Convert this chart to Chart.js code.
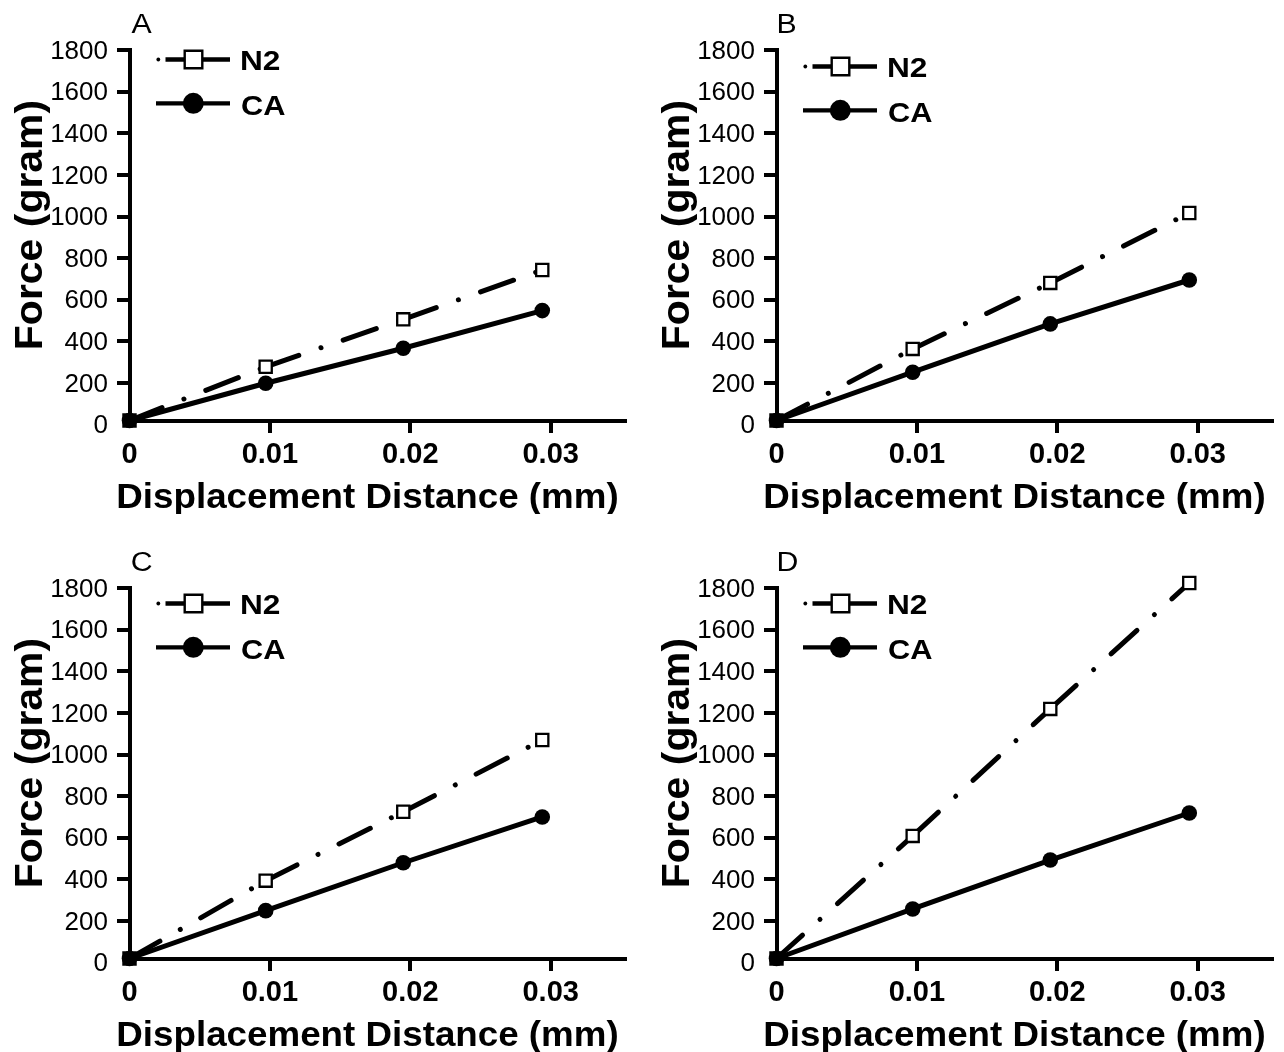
<!DOCTYPE html>
<html><head><meta charset="utf-8">
<script src="https://cdn.jsdelivr.net/npm/chart.js@4/dist/chart.umd.min.js"></script>
<style>
html,body{margin:0;padding:0;background:#fff;width:1284px;height:1052px;overflow:hidden;}
canvas{position:absolute;}
</style></head><body>
<canvas id="pA" width="636" height="514" style="left:0px;top:0px"></canvas>
<canvas id="pB" width="636" height="514" style="left:647px;top:0px"></canvas>
<canvas id="pC" width="636" height="514" style="left:0px;top:538px"></canvas>
<canvas id="pD" width="636" height="514" style="left:647px;top:538px"></canvas>
<script>
// ---- data ----
const xValues = [0, 0.0097, 0.0195, 0.0294];
const xTicks = [0, 0.01, 0.02, 0.03];
const xTickLabels = ['0', '0.01', '0.02', '0.03'];
const yTicks = [0, 200, 400, 600, 800, 1000, 1200, 1400, 1600, 1800];
const yTickLabels = ['0', '200', '400', '600', '800', '1000', '1200', '1400', '1600', '1800'];
const panelLetters = ['A', 'B', 'C', 'D'];
const seriesNames = ['N2', 'CA'];
const xTitle = 'Displacement Distance (mm)';
const yTitle = 'Force (gram)';
const n2A = [20, 278, 506, 743];
const caA = [20, 199, 367, 548];
const n2B = [20, 364, 681, 1017];
const caB = [20, 252, 484, 695];
const n2C = [20, 394, 725, 1070];
const caC = [20, 250, 480, 700];
const n2D = [20, 609, 1219, 1824];
const caD = [20, 258, 493, 719];

const FONT = '"Liberation Sans", Arial, Helvetica, sans-serif';
const DASH = [35, 23.5, 0.001, 23.5];

function stretchedText(ctx, text, x, y, font, sx, align) {
  ctx.save();
  ctx.translate(x, y);
  ctx.scale(sx, 1);
  ctx.font = font;
  ctx.textAlign = align;
  ctx.textBaseline = 'alphabetic';
  ctx.fillText(text, 0, 0);
  ctx.restore();
}

const decor = {
  id: 'panelDecor',
  afterDraw(chart, args, o) {
    const ctx = chart.ctx;
    const ds = chart.data.datasets;
    ctx.save();
    ctx.fillStyle = '#000';
    ctx.strokeStyle = '#000';
    // panel letter
    stretchedText(ctx, o.letter, o.letterX, 32.5, '27px ' + FONT, 1.12, 'center');
    // y title (rotated)
    ctx.save();
    ctx.translate(42, 225);
    ctx.rotate(-Math.PI / 2);
    ctx.scale(1.05, 1);
    ctx.font = 'bold 39px ' + FONT;
    ctx.textAlign = 'center';
    ctx.textBaseline = 'alphabetic';
    ctx.fillText(yTitle, 0, 0);
    ctx.restore();
    // x title
    stretchedText(ctx, xTitle, 367.5, 507.5, 'bold 35px ' + FONT, 1.05, 'center');
    // legend row 1 (N2): dash-dot line with open square
    const y1 = o.legendY;
    ctx.lineCap = 'butt';
    ctx.lineWidth = 4.3;
    ctx.beginPath();
    ctx.arc(158.3, y1, 1.9, 0, Math.PI * 2);
    ctx.fill();
    ctx.beginPath();
    ctx.moveTo(165.5, y1); ctx.lineTo(184, y1);
    ctx.moveTo(203, y1); ctx.lineTo(230, y1);
    ctx.stroke();
    ctx.lineWidth = 2.4;
    ctx.fillStyle = '#fff';
    ctx.beginPath();
    ctx.rect(193.5 - 8.8, y1 - 8.8, 17.6, 17.6);
    ctx.fill();
    ctx.stroke();
    ctx.fillStyle = '#000';
    stretchedText(ctx, ds[0].label, 240, y1 + 10, 'bold 28px ' + FONT, 1.13, 'left');
    // legend row 2 (CA): solid line with filled circle
    const y2 = o.legendY + 43.8;
    ctx.lineWidth = 4.3;
    ctx.beginPath();
    ctx.moveTo(156, y2); ctx.lineTo(230, y2);
    ctx.stroke();
    ctx.beginPath();
    ctx.arc(193.3, y2, 10.5, 0, Math.PI * 2);
    ctx.fill();
    stretchedText(ctx, ds[1].label, 241, y2 + 12, 'bold 28px ' + FONT, 1.1, 'left');
    ctx.restore();
  }
};

function hideZero(c) {
  return (c.tick && c.tick.value === 0) ? 'rgba(0,0,0,0)' : '#000';
}

function makePanel(id, letter, letterX, legendY, n2, ca) {
  const pts = arr => xValues.map((x, i) => ({x: x, y: arr[i]}));
  new Chart(document.getElementById(id), {
    type: 'scatter',
    data: {
      datasets: [
        {
          label: seriesNames[0],
          data: pts(n2),
          showLine: true,
          borderColor: '#000',
          borderWidth: 5,
          borderDash: DASH,
          borderCapStyle: 'round',
          borderJoinStyle: 'round',
          segment: { borderDashOffset: c => (c.p0DataIndex % 2) ? 0.001 : 0 },
          pointStyle: 'rect',
          pointRadius: 8.6,
          pointBorderWidth: 2.3,
          pointBorderColor: '#000',
          pointBackgroundColor: c => c.dataIndex === 0 ? '#000' : '#fff',
          clip: false
        },
        {
          label: seriesNames[1],
          data: pts(ca),
          showLine: true,
          borderColor: '#000',
          borderWidth: 5,
          borderCapStyle: 'round',
          pointStyle: 'circle',
          pointRadius: 7.8,
          pointBorderWidth: 0,
          pointBackgroundColor: '#000',
          clip: false
        }
      ]
    },
    options: {
      responsive: false,
      animation: false,
      events: [],
      devicePixelRatio: 1,
      layout: { padding: { left: 0, top: 50, right: 9, bottom: 0 } },
      plugins: {
        legend: { display: false },
        tooltip: { enabled: false },
        panelDecor: { letter: letter, letterX: letterX, legendY: legendY }
      },
      scales: {
        x: {
          type: 'linear',
          min: 0, max: 0.0353,
          bounds: 'data',
          afterBuildTicks: s => { s.ticks = xTicks.map(v => ({value: v})); },
          afterFit: s => { s.height = 93.5; },
          ticks: {
            autoSkip: false, maxRotation: 0, padding: 5, color: '#000',
            font: { family: FONT, size: 29, weight: 'bold', lineHeight: 1.2 },
            callback: (v, i) => xTickLabels[i]
          },
          grid: { drawOnChartArea: false, drawTicks: true, tickLength: 12.5, lineWidth: 4, color: hideZero },
          border: { display: true, width: 4, color: '#000' }
        },
        y: {
          type: 'linear',
          min: 20, max: 1800,
          bounds: 'data',
          afterBuildTicks: s => { s.ticks = yTicks.map(v => ({value: v})); },
          afterFit: s => { s.width = 129.5; },
          ticks: {
            autoSkip: false, padding: 9, labelOffset: 1.5, color: '#000',
            font: { family: FONT, size: 26, lineHeight: 1.2 },
            callback: (v, i) => yTickLabels[i]
          },
          grid: { drawOnChartArea: false, drawTicks: true, tickLength: 12.5, lineWidth: 4, color: hideZero },
          border: { display: true, width: 4, color: '#000' }
        }
      }
    },
    plugins: [decor]
  });
}

makePanel('pA', panelLetters[0], 141.7, 59.5, n2A, caA);
makePanel('pB', panelLetters[1], 139.5, 66.5, n2B, caB);
makePanel('pC', panelLetters[2], 141.7, 65.5, n2C, caC);
makePanel('pD', panelLetters[3], 140.5, 65.5, n2D, caD);
</script>
</body></html>
